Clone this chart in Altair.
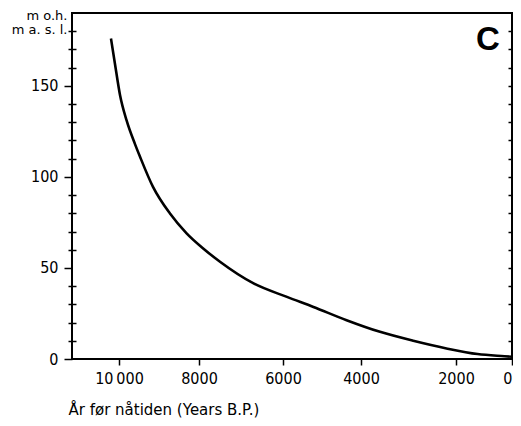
import altair as alt
import pandas as pd

# Curve (years before present, metres above sea level)
years = [10200, 10100, 9975, 9810, 9600, 9477, 9150, 8730, 8310, 7900, 7500,
         6700, 5900, 5220, 4370, 3600, 2900, 2200, 1230, 270, 0]
masl = [176, 162, 145, 131, 118, 111.2, 94.5, 80, 69, 60.7, 53.4,
        41.5, 34.1, 28.6, 21.3, 14.9, 10, 5.8, 2.7, 1.5, 1.2]

x_ticks = [10000, 8000, 6000, 4000, 2000, 0]
y_major = [0, 50, 100, 150]
y_minor_left = [10, 20, 30, 40, 60, 70, 80, 90, 110, 120, 130, 140, 160, 170, 180]
y_minor_right = [10, 20, 30, 40, 50, 60, 70, 80, 90, 100, 110, 120, 130, 140,
                 150, 160, 170, 180]
x_title = "År før nåtiden (Years B.P.)"
y_title = ["m o.h.", "m a. s. l."]
panel_label = "C"

df = pd.DataFrame({"year": years, "m": masl})

LABEL_FONT = "Liberation Sans Narrow, DejaVu Sans Condensed, sans-serif"

x_enc = alt.X(
    "year:Q",
    scale=alt.Scale(domain=[11170, 10000, 8000, 6000, 4000, 2000, 0],
                    range=[0, 47, 127, 211, 289, 384, 440],
                    nice=False, zero=False),
    axis=alt.Axis(values=x_ticks, format="d",
                  labelExpr="datum.value == 10000 ? '10\u2009000' : datum.label",
                  title=x_title, titleAnchor="start", titleAlign="left",
                  titleX=-4, titleY=55, titleBaseline="alphabetic",
                  titleFont="DejaVu Sans", titleFontSize=15, titleFontWeight="normal",
                  titleColor="black",
                  labelFont=LABEL_FONT, labelFontSize=16, labelColor="black",
                  labelPadding=5, tickSize=6, tickWidth=1.5, tickColor="black",
                  domain=False, grid=False),
)

y_scale = alt.Scale(domain=[0, 190], nice=False, zero=False)

base = alt.Chart(df)

curve = base.mark_line(color="black", strokeWidth=2.6, interpolate="monotone").encode(
    x=x_enc,
    y=alt.Y("m:Q", scale=y_scale,
            axis=alt.Axis(orient="left", values=y_major, title=y_title,
                          titleAngle=0, titleAlign="right", titleX=-5, titleY=6,
                          titleBaseline="alphabetic", titleLineHeight=14,
                          titleFont="DejaVu Sans", titleFontSize=13,
                          titleFontWeight="normal", titleColor="black",
                          labelFont=LABEL_FONT, labelFontSize=16, labelColor="black",
                          labelPadding=6, tickSize=8, tickWidth=1.5, tickColor="black",
                          domain=False, grid=False)),
)

left_minor = base.mark_line(opacity=0).encode(
    x=x_enc,
    y=alt.Y("m:Q", scale=y_scale,
            axis=alt.Axis(orient="left", values=y_minor_left, title=None, labels=False,
                          offset=-4, tickSize=8, tickWidth=1.5, tickColor="black",
                          domain=False, grid=False)),
)

right_minor = base.mark_line(opacity=0).encode(
    x=x_enc,
    y=alt.Y("m:Q", scale=y_scale,
            axis=alt.Axis(orient="right", values=y_minor_right, title=None, labels=False,
                          offset=-4, tickSize=8, tickWidth=1.5, tickColor="black",
                          domain=False, grid=False)),
)

label = alt.Chart(pd.DataFrame({"t": [panel_label]})).mark_text(
    font="Liberation Sans", fontSize=33, fontWeight="bold", color="black",
    align="center", baseline="alphabetic",
).encode(text="t:N", x=alt.value(416), y=alt.value(37))

chart = alt.layer(curve, left_minor, right_minor, label).resolve_axis(
    y="independent"
).properties(
    width=440, height=346,
    autosize=alt.AutoSizeParams(type="none"),
    padding={"left": 64, "top": 5, "right": 1, "bottom": 59},
).configure_view(stroke="black", strokeWidth=2)

chart.save("out.html", embed_options={"renderer": "svg", "actions": False})
